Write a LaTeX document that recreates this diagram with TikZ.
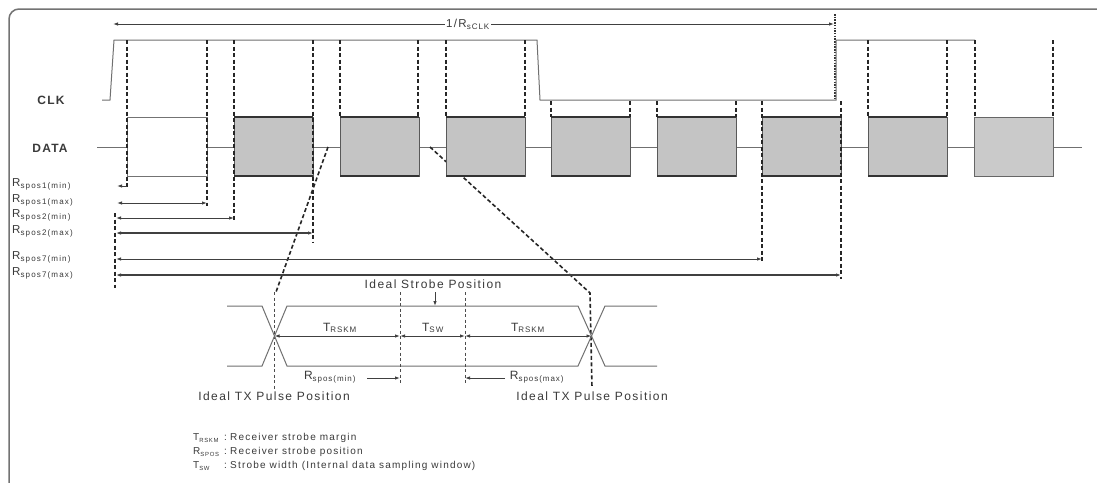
\documentclass[tikz,border=0pt]{standalone}
\usepackage{fontspec}
\setmainfont{Liberation Sans}
\newfontfamily\lblfont[LetterSpace=12]{Liberation Sans}
\newfontfamily\rfont[LetterSpace=14]{Liberation Sans}
\newfontfamily\sigfont[LetterSpace=10]{Liberation Sans}
\usetikzlibrary{arrows.meta}
\definecolor{txt}{HTML}{3A3A3A}
\definecolor{sigln}{HTML}{707070}
\definecolor{boxfill}{HTML}{C4C4C4}
\newcommand\mysub[1]{\textsubscript{#1}}
\newcommand\smsub[1]{\textsubscript{\scalebox{0.85}{#1}}}
\tikzset{
  sig/.style={draw=sigln, line width=1pt},
  dsh/.style={draw=black!85, line width=1.6pt, dash pattern=on 4pt off 2.5pt},
  tdsh/.style={draw=black!70, line width=0.8pt, dash pattern=on 3pt off 2.5pt},
  dotl/.style={draw=black!80, line width=1.2pt, dash pattern=on 1.5pt off 1.2pt},
  dim/.style={draw=black!75, line width=0.9pt, {Latex[length=5pt,width=3.5pt]}-{Latex[length=5pt,width=3.5pt]}},
  dimr/.style={draw=black!75, line width=0.9pt, -{Latex[length=5pt,width=3.5pt]}},
  rl/.style={anchor=west, text=txt, font=\lblfont\fontsize{10}{12}\selectfont, inner sep=0pt},
  rlab/.style={anchor=west, text=txt, font=\rfont\fontsize{11.5}{13}\selectfont, inner sep=0pt},
  tl/.style={text=txt, font=\lblfont\fontsize{12}{14}\selectfont, inner sep=1pt},
  sl/.style={text=txt, font=\sigfont\bfseries\fontsize{12}{14}\selectfont, inner sep=0pt},
}
\begin{document}
\begin{tikzpicture}[x=1pt,y=-1pt]
\useasboundingbox (0,0) rectangle (1097,482);
\fill[white] (0,0) rectangle (1097,482);
% frame
\draw[draw=black!55, line width=1.5pt, rounded corners=10pt] (9,9) rectangle (1115,500);

% period arrow
\coordinate (pL) at (113,24);
\coordinate (pR) at (834,24);
\draw[dim] (pL) -- (pR);
\node[fill=white, inner sep=1pt, text=txt, font=\lblfont\fontsize{11.5}{13}\selectfont] (per) at (468,24) {1/R\mysub{sCLK}};
\draw[dotl] (835,14) -- (835,100);

% labels
\node[sl] (clk) at (51,100) {CLK};
\node[sl] (data) at (50,148) {DATA};

% CLK waveform
\draw[sig] (102,100) -- (110,100) -- (114,40) -- (537,40) -- (540,100) -- (836,100) -- (836,40) -- (975,40);

% DATA baseline
\draw[sig] (97,147) -- (1082,147);

% zoom lines (behind boxes)
\coordinate (zl0) at (328,147);
\coordinate (zl1) at (276,292);
\coordinate (zr0) at (430,147);
\coordinate (zr1) at (590,293);
\draw[dsh] (zl0) -- (zl1);
\draw[dsh] (zr0) -- (zr1) -- (592,388);
\draw[tdsh] (274,292) -- (274,390);

% data boxes
\draw[draw=black!55, line width=1pt, fill=white] (127,117) rectangle (207,176);
\foreach \a in {234,340,446,551,657,762,868}{
  \fill[boxfill] (\a,117) rectangle ++(79,59);
  \draw[draw=black!65, line width=1pt] (\a,117) rectangle ++(79,59);
  \draw[draw=black!80, line width=1.8pt] (\a,117) -- ++(79,0);
  \draw[draw=black!80, line width=1.4pt] (\a,176) -- ++(79,0);
}
\fill[boxfill!90!white] (974,117) rectangle (1053,176);
\draw[draw=black!60, line width=1pt] (974,117) rectangle (1053,176);

% dashed strobe lines
\foreach \a in {340,418,446,525,868,947,975,1053}{
  \draw[dsh] (\a,40) -- (\a,117);
}
\foreach \a in {551,630,657,736}{
  \draw[dsh] (\a,101) -- (\a,117);
}
\draw[dsh] (127,40) -- (127,188);
\draw[dsh] (207,40) -- (207,206);
\draw[dsh] (234,40) -- (234,221);
\draw[dsh] (313,40) -- (313,243);
\draw[dsh] (762,101) -- (762,263);
\draw[dsh] (841,101) -- (841,279);
\draw[dsh] (115,213) -- (115,288);

% R labels and arrows
\node[rlab] (r1a) at (12,184) {R\mysub{spos1(min)}};
\node[rlab] (r1b) at (12,200) {R\mysub{spos1(max)}};
\node[rlab] (r2a) at (12,215) {R\mysub{spos2(min)}};
\node[rlab] (r2b) at (12,231) {R\mysub{spos2(max)}};
\node[rlab] (r7a) at (12,257) {R\mysub{spos7(min)}};
\node[rlab] (r7b) at (12,273) {R\mysub{spos7(max)}};
\draw[draw=black!75, line width=0.9pt, {Latex[length=5pt,width=3.5pt]}-] (117,186) -- (127,186);
\draw[dim] (117,203) -- (207,203);
\draw[dim] (116,218) -- (234,218);
\draw[dim, line width=1.2pt] (116,233) -- (313,233);
\draw[dim] (116,259) -- (762,259);
\draw[dim, line width=1.2pt] (116,275) -- (841,275);

% eye diagram
\draw[sig] (227,306) -- (262,306) -- (287,366) -- (578,366) -- (605,306) -- (657,306);
\draw[sig] (227,366) -- (262,366) -- (287,306) -- (578,306) -- (605,366) -- (657,366);
\draw[tdsh] (400,292) -- (400,385);
\draw[tdsh] (465,292) -- (465,385);
\coordinate (xl) at (274.5,336);
\coordinate (xr) at (591.5,336);
\coordinate (smin) at (400,336);
\coordinate (smax) at (465,336);
\draw[dim] (xl) -- (smin);
\draw[dim] (smin) -- (smax);
\draw[dim] (smax) -- (xr);
\node[tl] (t1) at (340,328) {T\mysub{RSKM}};
\node[tl] (t2) at (433,328) {T\mysub{SW}};
\node[tl] (t3) at (528,328) {T\mysub{RSKM}};
\node[tl] (isp) at (433,284) {Ideal Strobe Position};
\draw[dimr] (435,292) -- (435,306);
\node[tl] (rmin) at (330,377) {R\mysub{spos(min)}};
\node[tl] (rmax) at (537,377) {R\mysub{spos(max)}};
\draw[dimr] (367,378) -- (400,378);
\draw[dimr] (505,378) -- (465,378);
\node[tl] (itl) at (274,396) {Ideal TX Pulse Position};
\node[tl] (itr) at (592,396) {Ideal TX Pulse Position};

% legend
\node[rl] (l1) at (193,438) {T\smsub{RSKM}};
\node[rl] (l2) at (193,452) {R\smsub{SPOS}};
\node[rl] (l3) at (193,466) {T\smsub{SW}};
\node[rl] (c1) at (224,438) {:};
\node[rl] (c2) at (224,452) {:};
\node[rl] (c3) at (224,466) {:};
\node[rl] (d1) at (230,438) {Receiver strobe margin};
\node[rl] (d2) at (230,452) {Receiver strobe position};
\node[rl] (d3) at (230,466) {Strobe width (Internal data sampling window)};
\end{tikzpicture}
\end{document}
